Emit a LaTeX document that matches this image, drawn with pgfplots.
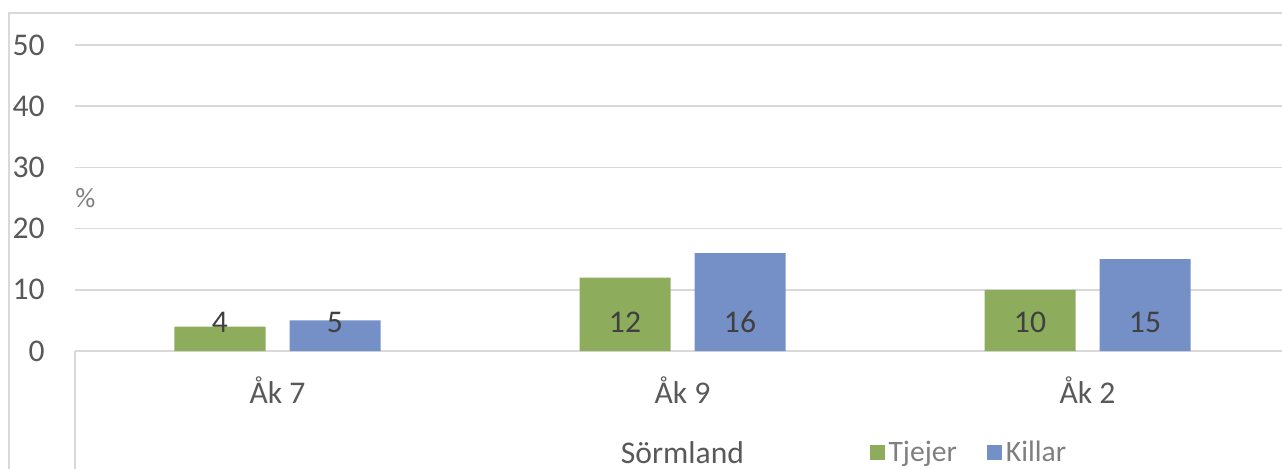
\documentclass[border=0pt]{standalone}
\usepackage{pgfplots}
\pgfplotsset{compat=1.18}
\usepackage{fontspec}
\setmainfont{Carlito}
\definecolor{gridc}{HTML}{D9D9D9}
\definecolor{tgreen}{HTML}{8EAD5C}
\definecolor{kblue}{HTML}{758FC7}
\definecolor{txt}{HTML}{595959}
\definecolor{lbl}{HTML}{404040}
\definecolor{leg}{HTML}{7F7F7F}
\begin{document}
\begin{tikzpicture}
\useasboundingbox (0pt,0pt) rectangle (641pt,234pt);
\clip (0pt,0pt) rectangle (641pt,234pt);
\draw[gridc, line width=0.75pt] (4.5pt,-5pt) -- (4.5pt,227.5pt) -- (660pt,227.5pt);
\draw[gridc, line width=0.75pt] (37.5pt,-5pt) -- (37.5pt,58.5pt);
\begin{axis}[
  at={(37.5pt,58.5pt)}, anchor=south west,
  scale only axis, width=607.5pt, height=153pt,
  xmin=-0.5, xmax=2.5, ymin=0, ymax=50,
  xtick={0,1,2}, xticklabels={Åk 7, Åk 9, Åk 2},
  ytick={0,10,...,50},
  ymajorgrids, grid style={gridc, line width=0.75pt},
  axis line style={draw=none}, major tick length=0pt,
  /pgf/number format/assume math mode=true,
  tick label style={font=\fontsize{15.8}{19}\selectfont, text=txt, inner sep=0pt},
  xticklabel style={anchor=base, yshift=-26pt},
  yticklabel style={anchor=east, xshift=-15pt},
  xlabel={Sörmland},
  every axis x label/.style={at={(rel axis cs:0.5,-0.366)}, anchor=base, inner sep=0pt, font=\fontsize{15.8}{19}\selectfont, text=txt},
  ylabel={\%},
  every axis y label/.style={at={(rel axis cs:0,0.5)}, anchor=west, inner sep=0pt, font=\fontsize{14}{17}\selectfont, text=leg},
  legend columns=2,
  legend style={at={(rel axis cs:0.654,-0.333)}, anchor=west, draw=none, fill=none, inner sep=0pt,
    font=\fontsize{14.8}{17}\selectfont, text=leg,
    nodes={inner sep=1.75pt},
    /tikz/every even column/.append style={column sep=13.5pt}},
  legend image code/.code={\fill[#1] (0pt,-3.75pt) rectangle (7.5pt,3.75pt);},
  visualization depends on={rawy \as \rawy},
  nodes near coords,
  every node near coord/.append style={font=\fontsize{15.8}{19}\selectfont, text=lbl, anchor=center, yshift={14.5pt-\rawy*3.06pt}},
]
\addplot[ybar, bar width=45.5pt, bar shift=-28.75pt, fill=tgreen, draw=none,
  every node near coord/.append style={xshift=-28.75pt}] coordinates {(0,4) (1,12) (2,10)};
\addlegendentry{Tjejer}
\addplot[ybar, bar width=45.5pt, bar shift=28.75pt, fill=kblue, draw=none,
  every node near coord/.append style={xshift=28.75pt}] coordinates {(0,5) (1,16) (2,15)};
\addlegendentry{Killar}
\end{axis}
\end{tikzpicture}
\end{document}
